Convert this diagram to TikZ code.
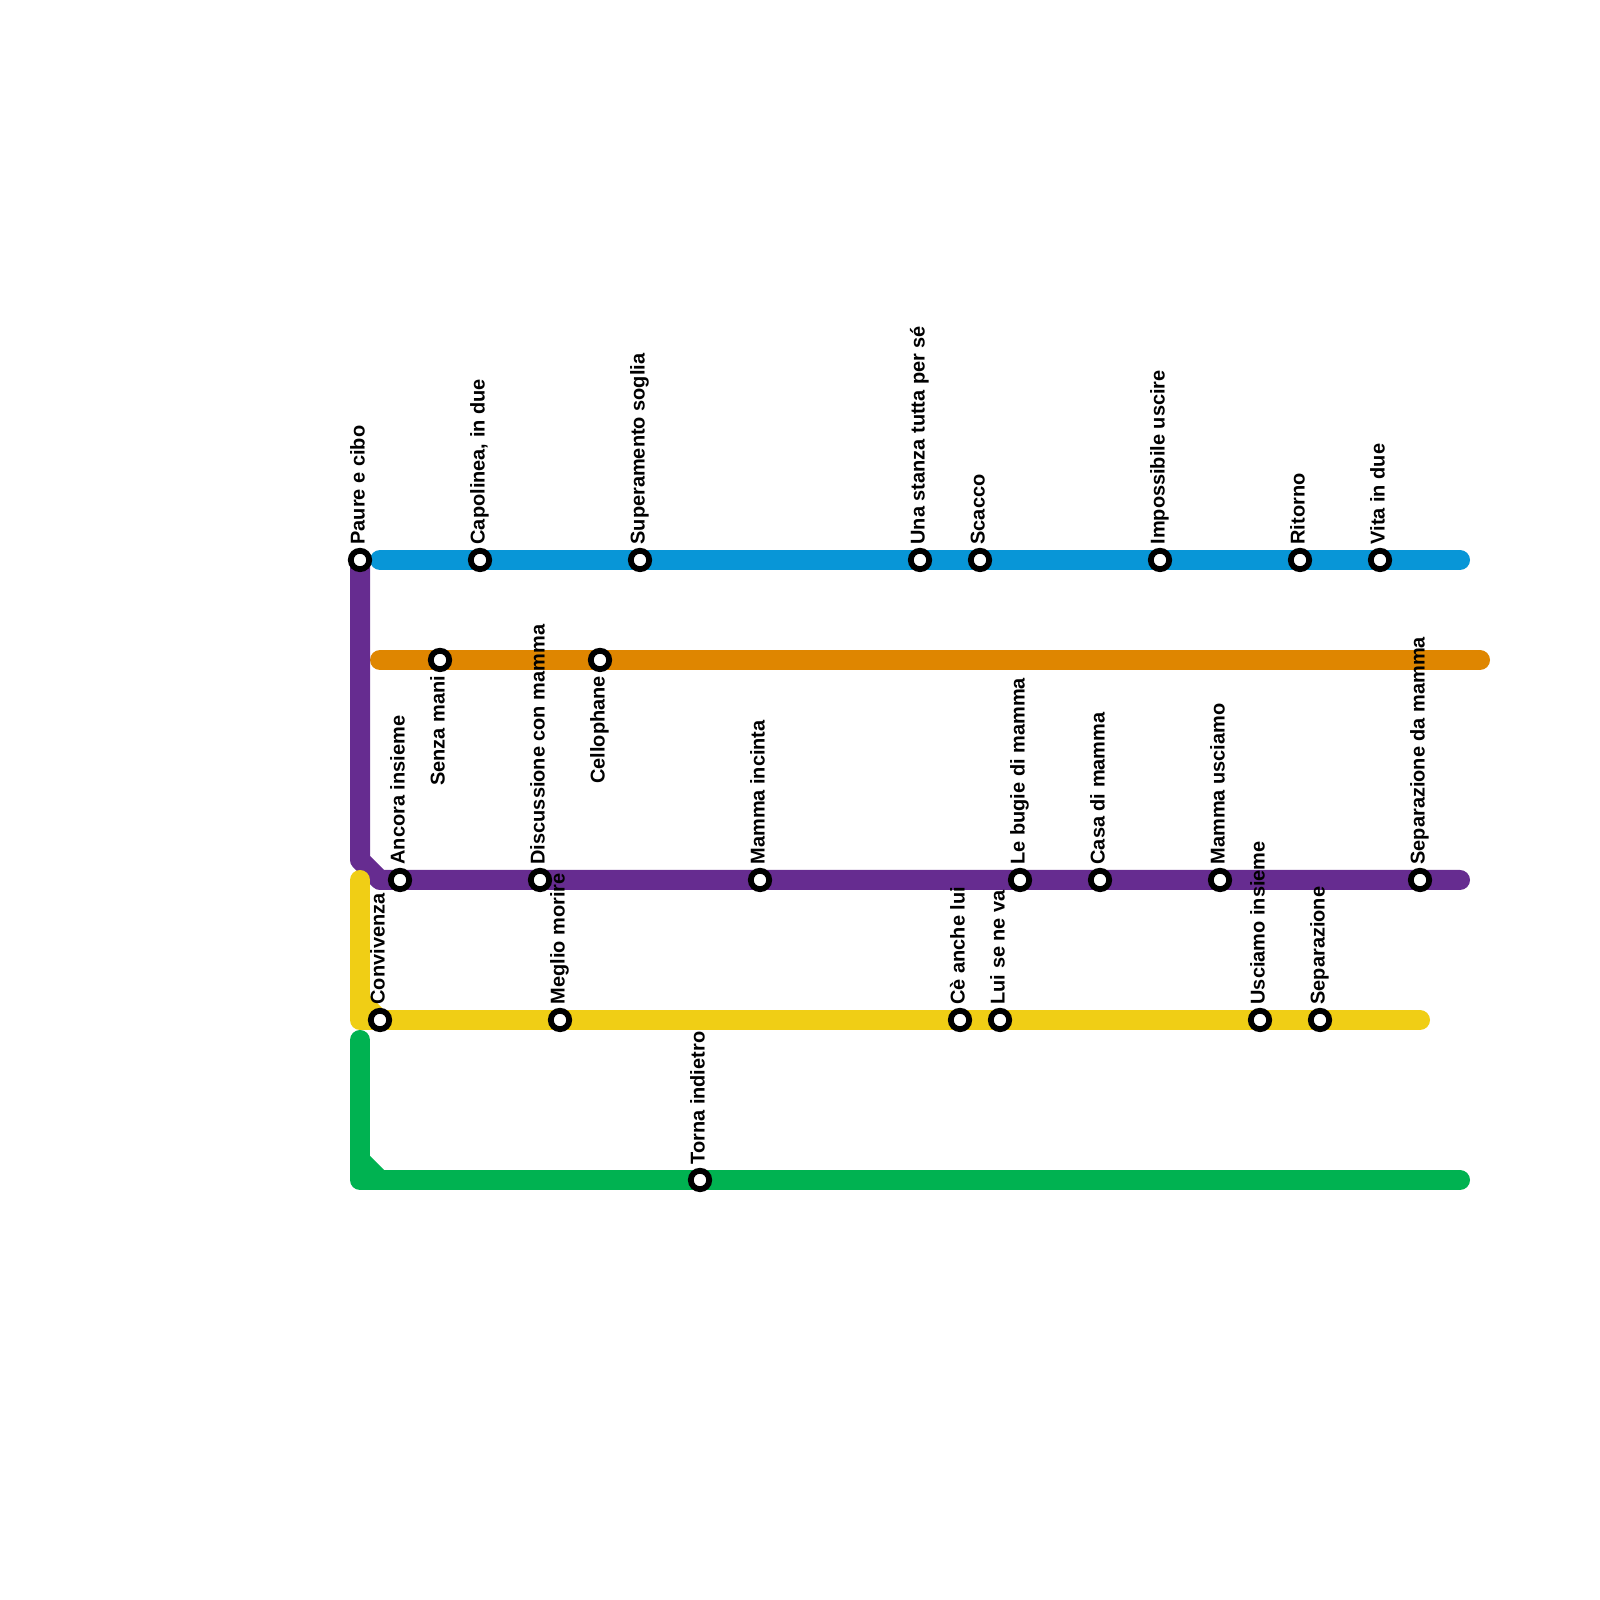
\documentclass[tikz,border=0pt]{standalone}
\usepackage{fontspec}
\setmainfont{Liberation Sans}
\usepackage{xcolor}
\definecolor{bluel}{HTML}{0896D7}
\definecolor{orangel}{HTML}{DF8600}
\definecolor{purplel}{HTML}{662C90}
\definecolor{yellowl}{HTML}{F0CE15}
\definecolor{greenl}{HTML}{00B251}

\begin{document}
\begin{tikzpicture}[
  metro/.style={line width=1cm,line cap=round,line join=round},
  stn/.style={draw=black,fill=white,circle,line width=.29cm,minimum size=.92cm,inner sep=0pt},
  lblup/.style={xshift=.23cm,yshift=.77cm,rotate=90,anchor=base west,inner sep=0pt,font=\fontsize{28.4}{30}\selectfont\bfseries},
  lbldown/.style={xshift=.23cm,yshift=-.8cm,rotate=90,anchor=base east,inner sep=0pt,font=\fontsize{28.4}{30}\selectfont\bfseries},
]
  \useasboundingbox (0,0) rectangle (80,80);

  \coordinate (blueA) at (19,52);
  \coordinate (blueB) at (73,52);
  \coordinate (orangeA) at (19,47);
  \coordinate (orangeB) at (74,47);
  \coordinate (purpleA) at (18,52);
  \coordinate (purpleC) at (18,37);
  \coordinate (purpleD) at (19,36);
  \coordinate (purpleB) at (73,36);
  \coordinate (yellowA) at (18,36);
  \coordinate (yellowC) at (18,29);
  \coordinate (yellowD) at (18,30);
  \coordinate (yellowE) at (19,29);
  \coordinate (yellowB) at (71,29);
  \coordinate (greenA) at (18,28);
  \coordinate (greenC) at (18,21);
  \coordinate (greenD) at (18,22);
  \coordinate (greenE) at (19,21);
  \coordinate (greenB) at (73,21);

  \draw[metro,bluel] (blueA) -- (blueB);
  \draw[metro,orangel] (orangeA) -- (orangeB);
  \draw[metro,purplel] (purpleA) -- (purpleC) -- (purpleD) -- (purpleB);
  \draw[metro,yellowl] (yellowA) -- (yellowC) -- (yellowB);
  \draw[metro,yellowl] (yellowD) -- (yellowE);
  \draw[metro,greenl] (greenA) -- (greenC) -- (greenB);
  \draw[metro,greenl] (greenD) -- (greenE);

  % blue
  \node[stn] (paure) at (18,52) {};
  \node[stn] (capolinea) at (24,52) {};
  \node[stn] (soglia) at (32,52) {};
  \node[stn] (stanza) at (46,52) {};
  \node[stn] (scacco) at (49,52) {};
  \node[stn] (impossibile) at (58,52) {};
  \node[stn] (ritorno) at (65,52) {};
  \node[stn] (vita) at (69,52) {};
  % orange
  \node[stn] (senzamani) at (22,47) {};
  \node[stn] (cellophane) at (30,47) {};
  % purple
  \node[stn] (ancora) at (20,36) {};
  \node[stn] (discussione) at (27,36) {};
  \node[stn] (incinta) at (38,36) {};
  \node[stn] (bugie) at (51,36) {};
  \node[stn] (casa) at (55,36) {};
  \node[stn] (usciamo) at (61,36) {};
  \node[stn] (sepmamma) at (71,36) {};
  % yellow
  \node[stn] (convivenza) at (19,29) {};
  \node[stn] (meglio) at (28,29) {};
  \node[stn] (anchelui) at (48,29) {};
  \node[stn] (seneva) at (50,29) {};
  \node[stn] (insieme) at (63,29) {};
  \node[stn] (separazione) at (66,29) {};
  % green
  \node[stn] (torna) at (35,21) {};

  \node[lblup] (paureT) at (paure) {Paure e cibo};
  \node[lblup] (capolineaT) at (capolinea) {Capolinea, in due};
  \node[lblup] (sogliaT) at (soglia) {Superamento soglia};
  \node[lblup] (stanzaT) at (stanza) {Una stanza tutta per sé};
  \node[lblup] (scaccoT) at (scacco) {Scacco};
  \node[lblup] (impossibileT) at (impossibile) {Impossibile uscire};
  \node[lblup] (ritornoT) at (ritorno) {Ritorno};
  \node[lblup] (vitaT) at (vita) {Vita in due};
  \node[lbldown] (senzamaniT) at (senzamani) {Senza mani};
  \node[lbldown] (cellophaneT) at (cellophane) {Cellophane};
  \node[lblup] (ancoraT) at (ancora) {Ancora insieme};
  \node[lblup] (discussioneT) at (discussione) {Discussione con mamma};
  \node[lblup] (incintaT) at (incinta) {Mamma incinta};
  \node[lblup] (bugieT) at (bugie) {Le bugie di mamma};
  \node[lblup] (casaT) at (casa) {Casa di mamma};
  \node[lblup] (usciamoT) at (usciamo) {Mamma usciamo};
  \node[lblup] (sepmammaT) at (sepmamma) {Separazione da mamma};
  \node[lblup] (convivenzaT) at (convivenza) {Convivenza};
  \node[lblup] (meglioT) at (meglio) {Meglio morire};
  \node[lblup] (anchekuiT) at (anchelui) {Cè anche lui};
  \node[lblup] (senevaT) at (seneva) {Lui se ne va};
  \node[lblup] (insiemeT) at (insieme) {Usciamo insieme};
  \node[lblup] (separazioneT) at (separazione) {Separazione};
  \node[lblup] (tornaT) at (torna) {Torna indietro};
\end{tikzpicture}
\end{document}
